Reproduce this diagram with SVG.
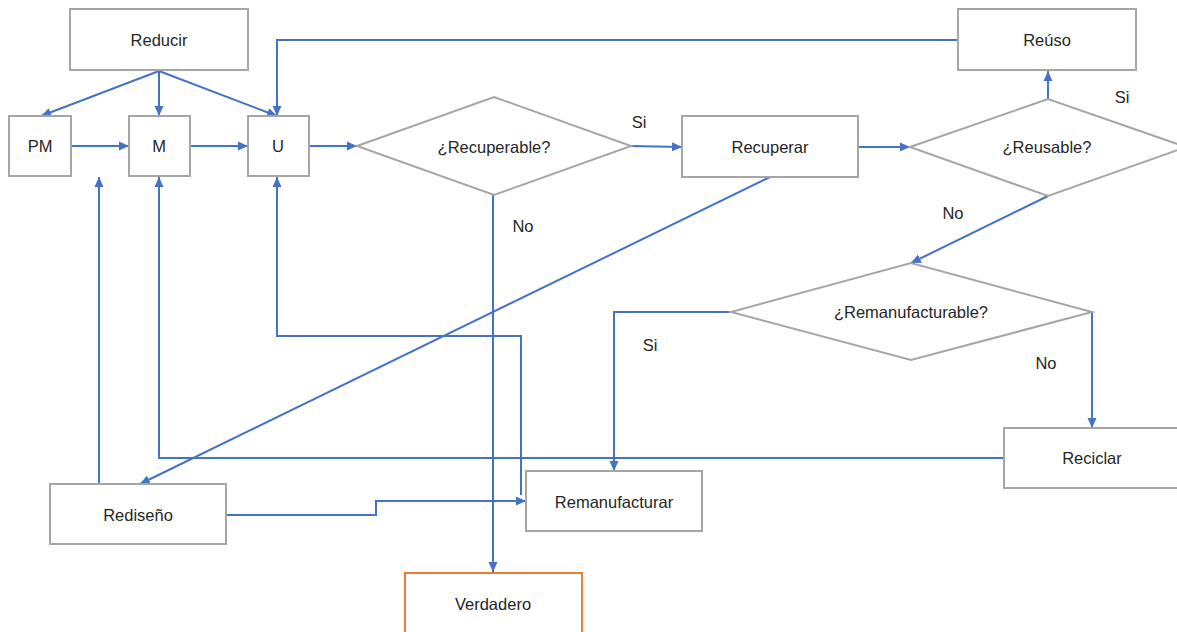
<svg xmlns="http://www.w3.org/2000/svg" width="1177" height="632" viewBox="0 0 1177 632">
<style>
.box{fill:#fff;stroke:#A6A6A6;stroke-width:2}
.org{fill:#fff;stroke:#ED7D31;stroke-width:2}
.c{fill:none;stroke:#4472C4;stroke-width:2}
.a{marker-end:url(#ah)}
text{font-family:"Liberation Sans",Arial,sans-serif;font-size:16.5px;fill:#262626;text-anchor:middle;dominant-baseline:central}
</style>
<defs>
<marker id="ah" markerUnits="userSpaceOnUse" markerWidth="12" markerHeight="10" refX="10" refY="5" orient="auto">
<path d="M0,0.5 L10,5 L0,9.5 Z" fill="#4472C4"/>
</marker>
</defs>
<rect width="1177" height="632" fill="#fff"/>
<g id="connectors">
<path class="c a" d="M159,71 L41,116"/>
<path class="c a" d="M159,71 L159,116"/>
<path class="c a" d="M159,71 L277,116"/>
<path class="c a" d="M71,146 L129,146"/>
<path class="c a" d="M190,146 L248,146"/>
<path class="c a" d="M309,146 L357,146"/>
<path class="c a" d="M958,40 L277,40 L277,116"/>
<path class="c a" d="M630,146 L682,147"/>
<path class="c a" d="M493,195 L493,572"/>
<path class="c a" d="M858,147 L910,147"/>
<path class="c a" d="M1048,99 L1048,71"/>
<path class="c a" d="M1048,196 L911,263"/>
<path class="c a" d="M1092,312 L1092,428"/>
<path class="c a" d="M730,312 L614,312 L614,471"/>
<path class="c a" d="M1004,458 L159,458 L159,177"/>
<path class="c a" d="M99,484 L99,177"/>
<path class="c a" d="M770,177 L140,484"/>
<path class="c a" d="M227,515 L376,515 L376,501 L526,501"/>
<path class="c a" d="M521,495 L521,336 L277,336 L277,177"/>
</g>
<g id="reducir"><rect class="box" x="70" y="9" width="178" height="61"/><text x="159" y="40">Reducir</text></g>
<g id="pm"><rect class="box" x="9" y="116" width="62" height="60"/><text x="40" y="146">PM</text></g>
<g id="m"><rect class="box" x="129" y="116" width="61" height="60"/><text x="159" y="146">M</text></g>
<g id="u"><rect class="box" x="248" y="116" width="61" height="60"/><text x="278" y="146">U</text></g>
<g id="recuperable"><path class="box" d="M357,146 L494,97 L631,146 L494,195 Z"/><text x="494" y="147">¿Recuperable?</text></g>
<g id="recuperar"><rect class="box" x="682" y="116" width="176" height="61"/><text x="770" y="147">Recuperar</text></g>
<g id="reuso"><rect class="box" x="958" y="9" width="178" height="61"/><text x="1047" y="40">Reúso</text></g>
<g id="reusable"><path class="box" d="M910,147 L1048,99 L1186,147 L1048,196 Z"/><text x="1047" y="147">¿Reusable?</text></g>
<g id="remanufacturable"><path class="box" d="M731,312 L911,263 L1092,312 L911,360 Z"/><text x="911" y="312">¿Remanufacturable?</text></g>
<g id="reciclar"><rect class="box" x="1004" y="428" width="180" height="60"/><text x="1092" y="458">Reciclar</text></g>
<g id="remanufacturar"><rect class="box" x="526" y="471" width="176" height="60"/><text x="614" y="502">Remanufacturar</text></g>
<g id="rediseno"><rect class="box" x="50" y="484" width="176" height="60"/><text x="138" y="515">Rediseño</text></g>
<g id="verdadero"><rect class="org" x="405" y="573" width="177" height="70"/><text x="493" y="604">Verdadero</text></g>
<g id="labels">
<text x="639" y="122">Si</text>
<text x="523" y="226">No</text>
<text x="1122" y="97">Si</text>
<text x="953" y="213">No</text>
<text x="650" y="345">Si</text>
<text x="1046" y="363">No</text>
</g>
</svg>
